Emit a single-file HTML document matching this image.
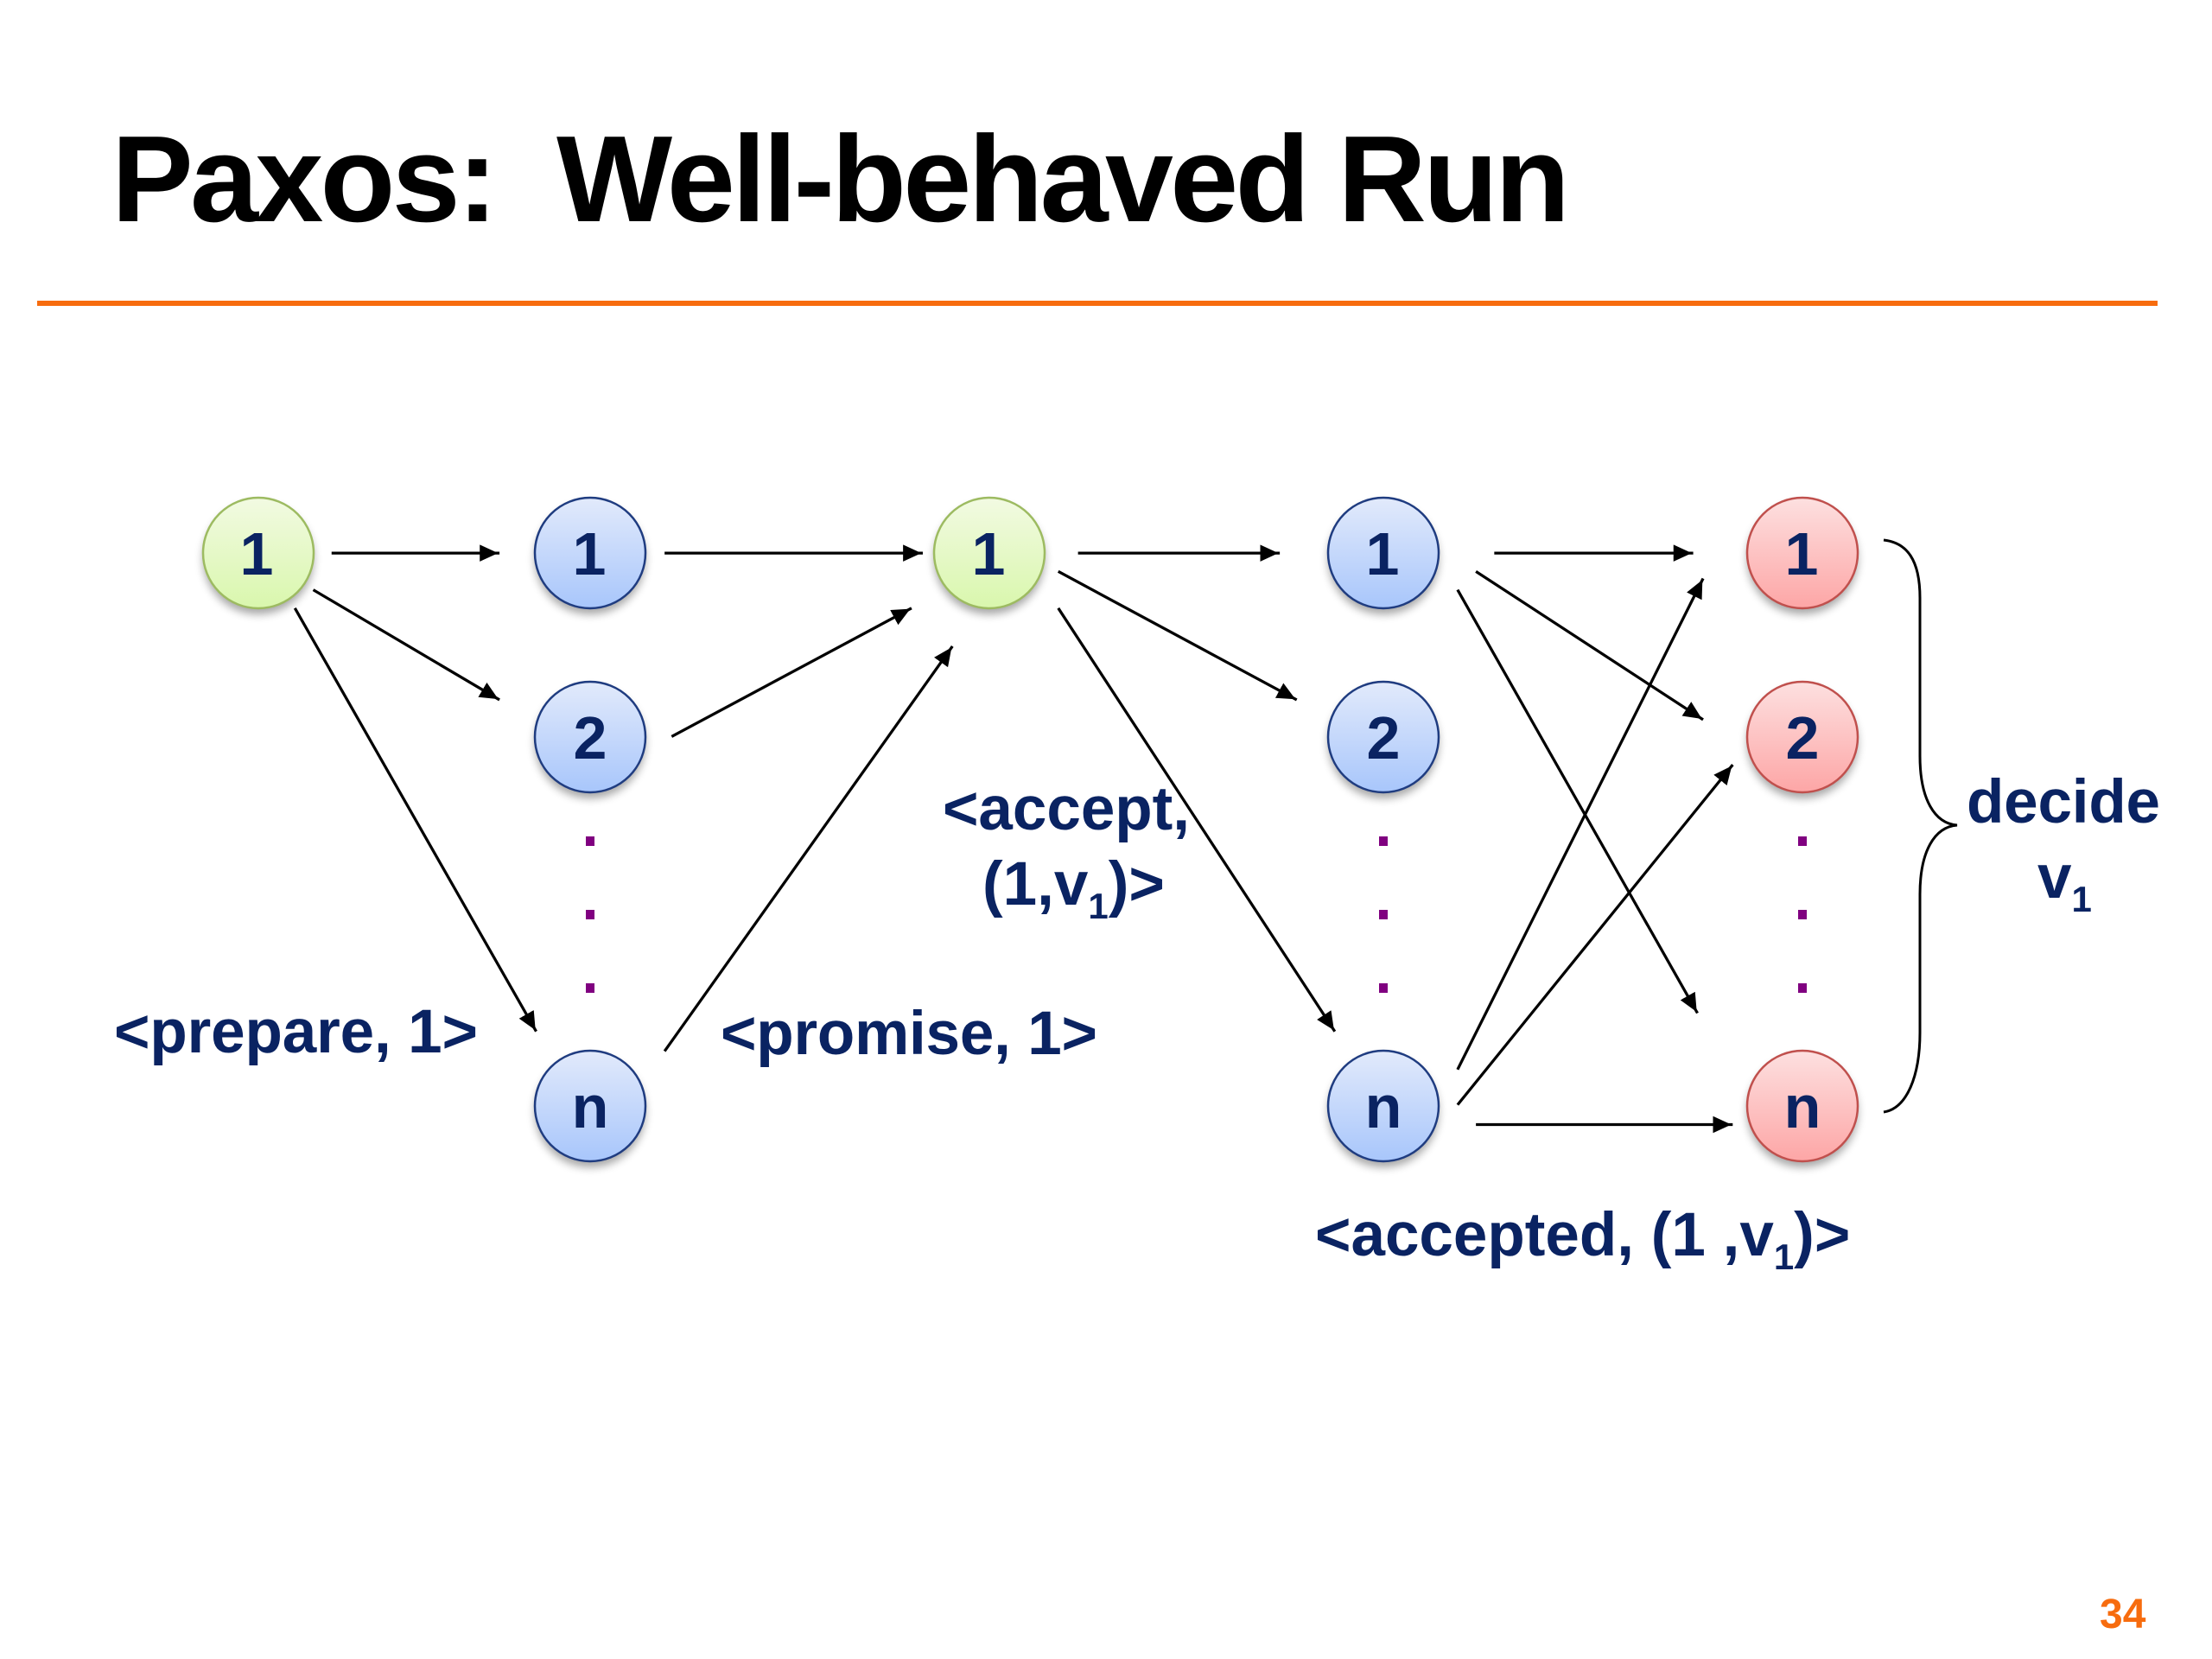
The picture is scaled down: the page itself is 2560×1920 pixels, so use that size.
<!DOCTYPE html>
<html><head><meta charset="utf-8"><style>
html,body{margin:0;padding:0;background:#fff;width:2560px;height:1920px;overflow:hidden}
svg{display:block}
text{font-family:"Liberation Sans",Arial,sans-serif;font-weight:bold}
.l{fill:#0a2362;font-size:71px}
.n{fill:#0a2362;font-size:70px;text-anchor:middle}
.a line{stroke:#000;stroke-width:2;marker-end:url(#h)}
.s{font-size:42px}
</style></head><body>
<svg width="2560" height="1920" viewBox="0 0 2560 1920" xmlns="http://www.w3.org/2000/svg">
<defs>
<marker id="h" markerUnits="userSpaceOnUse" markerWidth="15" markerHeight="14" refX="14" refY="6" orient="auto"><path d="M0 0L13 6L0 12Z" fill="#000"/></marker>
<linearGradient id="g" x1="0" y1="0" x2="0" y2="1"><stop offset="0" stop-color="#f2fae2"/><stop offset="1" stop-color="#d9f7ad"/></linearGradient>
<linearGradient id="b" x1="0" y1="0" x2="0" y2="1"><stop offset="0" stop-color="#e2eafb"/><stop offset="1" stop-color="#a8c6fb"/></linearGradient>
<linearGradient id="r" x1="0" y1="0" x2="0" y2="1"><stop offset="0" stop-color="#fde0e0"/><stop offset="1" stop-color="#fda6a6"/></linearGradient>
<filter id="sh" x="-30%" y="-30%" width="160%" height="160%"><feGaussianBlur stdDeviation="5"/></filter>
<g id="c0"><circle cx="0" cy="7" r="64" fill="#000" opacity=".35" filter="url(#sh)"/></g>
</defs>
<rect width="2560" height="1920" fill="#fff"/>
<text x="129" y="256" font-size="142" fill="#000" textLength="1688" lengthAdjust="spacing" xml:space="preserve">Paxos:  Well-behaved Run</text>
<rect x="43" y="348" width="2454" height="6" fill="#f76c0e"/>

<g transform="scale(1.633)" class="a">
<line x1="235" y1="392" x2="354" y2="392"/>
<line x1="222" y1="418" x2="354" y2="496"/>
<line x1="209" y1="431" x2="380" y2="731"/>
<line x1="471" y1="392" x2="654" y2="392"/>
<line x1="476" y1="522" x2="646" y2="431"/>
<line x1="471" y1="745" x2="675" y2="458"/>
<line x1="764" y1="392" x2="907" y2="392"/>
<line x1="750" y1="405" x2="919" y2="496"/>
<line x1="750" y1="431" x2="946" y2="731"/>
<line x1="1059" y1="392" x2="1200" y2="392"/>
<line x1="1046" y1="405" x2="1207" y2="510"/>
<line x1="1033" y1="418" x2="1203" y2="718"/>
<line x1="1033" y1="758" x2="1207" y2="410"/>
<line x1="1033" y1="783" x2="1228" y2="542"/>
<line x1="1046" y1="797" x2="1228" y2="797"/>
</g>

<path d="M2180 625C2207 628 2222 648 2222 692V875C2222 925 2239 953 2265 955C2239 957 2222 985 2222 1035V1195C2222 1245 2207 1283 2180 1287" fill="none" stroke="#000" stroke-width="3"/>

<g>
<use href="#c0" x="299" y="640"/><circle cx="299" cy="640" r="64" fill="url(#g)" stroke="#9dbb61" stroke-width="2.5"/>
<use href="#c0" x="683" y="640"/><circle cx="683" cy="640" r="64" fill="url(#b)" stroke="#1f3c80" stroke-width="2.5"/>
<use href="#c0" x="683" y="853"/><circle cx="683" cy="853" r="64" fill="url(#b)" stroke="#1f3c80" stroke-width="2.5"/>
<use href="#c0" x="683" y="1280"/><circle cx="683" cy="1280" r="64" fill="url(#b)" stroke="#1f3c80" stroke-width="2.5"/>
<use href="#c0" x="1145" y="640"/><circle cx="1145" cy="640" r="64" fill="url(#g)" stroke="#9dbb61" stroke-width="2.5"/>
<use href="#c0" x="1601" y="640"/><circle cx="1601" cy="640" r="64" fill="url(#b)" stroke="#1f3c80" stroke-width="2.5"/>
<use href="#c0" x="1601" y="853"/><circle cx="1601" cy="853" r="64" fill="url(#b)" stroke="#1f3c80" stroke-width="2.5"/>
<use href="#c0" x="1601" y="1280"/><circle cx="1601" cy="1280" r="64" fill="url(#b)" stroke="#1f3c80" stroke-width="2.5"/>
<use href="#c0" x="2086" y="640"/><circle cx="2086" cy="640" r="64" fill="url(#r)" stroke="#c0504d" stroke-width="2.5"/>
<use href="#c0" x="2086" y="853"/><circle cx="2086" cy="853" r="64" fill="url(#r)" stroke="#c0504d" stroke-width="2.5"/>
<use href="#c0" x="2086" y="1280"/><circle cx="2086" cy="1280" r="64" fill="url(#r)" stroke="#c0504d" stroke-width="2.5"/>
</g>
<g>
<text class="n" x="297" y="665">1</text>
<text class="n" x="682" y="665">1</text>
<text class="n" x="683" y="878">2</text>
<text class="n" x="683" y="1305">n</text>
<text class="n" x="1144" y="665">1</text>
<text class="n" x="1600" y="665">1</text>
<text class="n" x="1601" y="878">2</text>
<text class="n" x="1601" y="1305">n</text>
<text class="n" x="2085" y="665">1</text>
<text class="n" x="2086" y="878">2</text>
<text class="n" x="2086" y="1305">n</text>
</g>
<g fill="#800080">
<rect x="678" y="968" width="10" height="11"/><rect x="678" y="1053" width="10" height="11"/><rect x="678" y="1138" width="10" height="11"/>
<rect x="1596" y="968" width="10" height="11"/><rect x="1596" y="1053" width="10" height="11"/><rect x="1596" y="1138" width="10" height="11"/>
<rect x="2081" y="968" width="10" height="11"/><rect x="2081" y="1053" width="10" height="11"/><rect x="2081" y="1138" width="10" height="11"/>
</g>

<text class="l" x="132" y="1218" textLength="421" lengthAdjust="spacing">&lt;prepare, 1&gt;</text>
<text class="l" x="834" y="1220" textLength="436" lengthAdjust="spacing">&lt;promise, 1&gt;</text>
<text class="l" x="1091" y="960" textLength="286" lengthAdjust="spacing">&lt;accept,</text>
<text class="l" x="1137" y="1047">(1,v<tspan class="s" dy="16">1</tspan><tspan dy="-16">)&gt;</tspan></text>
<text class="l" x="1522" y="1453">&lt;accepted, (1 ,v<tspan class="s" dy="16">1</tspan><tspan dy="-16">)&gt;</tspan></text>
<text class="l" x="2276" y="952" textLength="224" lengthAdjust="spacing">decide</text>
<text class="l" x="2358" y="1039">v<tspan class="s" dy="16">1</tspan></text>
<text x="2430" y="1884" font-size="48" fill="#f76c0e">34</text>
</svg>
</body></html>
